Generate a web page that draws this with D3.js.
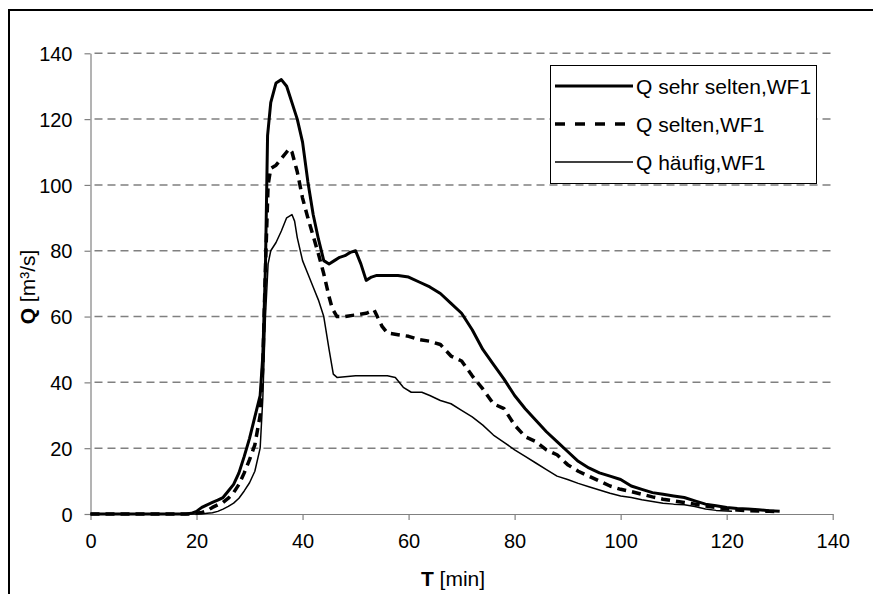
<!DOCTYPE html>
<meta charset="utf-8">
<style>
body { margin: 0; background: #fff; }
text { font-family: "Liberation Sans", Arial, sans-serif; fill: #000; }
.grid line { stroke: #808080; stroke-width: 1.5; stroke-dasharray: 8,5; }
.axis path, .axis line { stroke: #808080; stroke-width: 1.2; }
</style>
<svg width="873" height="594"></svg>
<script src="https://d3js.org/d3.v7.min.js"></script>
<script>
// axis ticks
var xTicks = [0, 20, 40, 60, 80, 100, 120, 140];
var yTicks = [0, 20, 40, 60, 80, 100, 120, 140];

// Q sehr selten, WF1
var tSehr = [0, 18, 19, 20, 21, 22, 23, 24, 25, 26, 27, 28, 29, 30, 31, 32, 32.5, 33, 33.4, 34, 35, 36, 37, 38, 39, 40, 41, 42, 43, 44, 45, 46, 47, 48, 49, 50, 51, 52, 53, 54, 56, 58, 60, 62, 64, 66, 68, 70, 72, 74, 76, 78, 80, 82, 84, 86, 88, 90, 92, 94, 96, 98, 100, 102, 104, 106, 108, 110, 112, 114, 116, 118, 120, 122, 124, 126, 128, 130];
var qSehr = [0, 0, 0.2, 0.8, 2, 2.8, 3.5, 4.2, 5, 7, 9, 12.5, 17.5, 23, 29.5, 36, 48, 75, 115, 125, 131, 132, 130, 125, 120, 113, 101, 91, 83.5, 77, 76, 77, 78, 78.5, 79.5, 80, 76, 71, 72, 72.5, 72.5, 72.5, 72, 70.5, 69, 67, 64, 61, 56, 50, 45.5, 41, 36, 32, 28.5, 25, 22, 19, 16, 14, 12.5, 11.5, 10.5, 8.5, 7.5, 6.5, 6, 5.5, 5, 4, 3, 2.5, 2, 1.7, 1.5, 1.3, 1, 0.8];

// Q selten, WF1
var tSelten = [0, 19, 20, 21, 22, 23, 24, 25, 26, 27, 28, 29, 30, 31, 32, 32.5, 33, 33.5, 34, 35, 36, 37, 37.5, 38, 39, 40, 41, 42, 43, 44, 45, 45.6, 46.5, 48, 50, 52, 53.5, 55, 56, 58, 60, 62, 64, 66, 68, 70, 72, 74, 76, 78, 80, 82, 84, 86, 88, 90, 92, 94, 96, 98, 100, 102, 104, 106, 108, 110, 112, 114, 116, 118, 120, 122, 124, 126, 128, 130];
var qSelten = [0, 0, 0.2, 0.5, 1, 2, 2.8, 3.5, 4.8, 6.5, 9, 12.5, 16.5, 21, 30, 45, 75, 100, 105, 106, 108, 110, 111, 110, 104, 96, 90, 84.5, 79, 73, 66, 62.5, 60, 60, 60.5, 61, 62, 57, 55, 54.5, 54, 53, 52.5, 51.5, 48, 46.5, 42, 38, 33.5, 32, 27, 23.5, 22, 19.5, 18, 15, 13, 11.5, 10, 8.5, 7.5, 6.8, 6, 5.2, 4.5, 4, 3.5, 3, 2.4, 2, 1.6, 1.2, 1, 0.9, 0.8, 0.7];

// Q haeufig, WF1
var tHaeufig = [0, 21, 22, 23, 24, 25, 26, 27, 28, 29, 30, 31, 32, 32.5, 33, 33.5, 34, 35, 36, 37, 38, 38.5, 39, 40, 41, 42, 43, 44, 45, 45.8, 46.5, 50, 54, 56, 57.5, 59, 60.5, 62.5, 64, 66, 68, 70, 72, 74, 76, 78, 80, 82, 84, 86, 88, 90, 92, 94, 96, 98, 100, 102, 104, 106, 108, 110, 112, 114, 116, 118, 120, 121];
var qHaeufig = [0, 0, 0.2, 0.4, 0.8, 1.5, 2.3, 3.3, 4.8, 7, 9.5, 13, 20, 35, 60, 76, 80, 82.5, 86, 90, 91, 89, 84, 77, 73, 69, 65, 60, 50, 42.5, 41.5, 42, 42, 42, 41.5, 38.5, 37, 37, 36, 34.5, 33.5, 31.5, 29.5, 27, 24, 21.8, 19.5, 17.5, 15.5, 13.5, 11.5, 10.5, 9.3, 8.3, 7.3, 6.3, 5.5, 5, 4.3, 3.8, 3.3, 3, 2.8, 2.3, 1.5, 1.1, 0.9, 0.8];

var series = [
  {name: "Q sehr selten,WF1", t: tSehr, q: qSehr, width: 3, dash: null},
  {name: "Q selten,WF1", t: tSelten, q: qSelten, width: 3.5, dash: "9,6"},
  {name: "Q häufig,WF1", t: tHaeufig, q: qHaeufig, width: 1.5, dash: null}
];

var svg = d3.select("svg");

// outer chart frame (right and bottom edges fall outside the picture)
svg.append("rect")
    .attr("x", 9).attr("y", 10)
    .attr("width", 900).attr("height", 620)
    .attr("fill", "none")
    .attr("stroke", "#000")
    .attr("stroke-width", 2);

var x = d3.scaleLinear().domain([0, 140]).range([90.5, 832.7]);
var y = d3.scaleLinear().domain([0, 140]).range([514, 53.3]);

svg.append("g")
    .attr("class", "grid")
  .selectAll("line")
  .data(yTicks.filter(function(d) { return d > 0; }))
  .enter().append("line")
    .attr("x1", x(0) + 4)
    .attr("x2", x(140))
    .attr("y1", function(d) { return y(d); })
    .attr("y2", function(d) { return y(d); });

var xAxis = svg.append("g")
    .attr("class", "axis")
    .attr("transform", "translate(0," + y(0) + ")")
    .call(d3.axisBottom(x).tickValues(xTicks).tickSize(6).tickSizeOuter(0).tickPadding(14));

var yAxis = svg.append("g")
    .attr("class", "axis")
    .attr("transform", "translate(" + x(0) + ",0)")
    .call(d3.axisLeft(y).tickValues(yTicks).tickSize(6).tickSizeOuter(0).tickPadding(12));

svg.selectAll(".axis text")
    .style("font-family", "'Liberation Sans', Arial, sans-serif")
    .style("font-size", "20px")
    .attr("fill", "#000");
yAxis.selectAll("text").attr("dy", "0.36em");

var line = d3.line()
    .x(function(d) { return x(d[0]); })
    .y(function(d) { return y(d[1]); });

svg.append("g")
  .selectAll("path")
  .data(series)
  .enter().append("path")
    .attr("d", function(s) { return line(d3.zip(s.t, s.q)); })
    .attr("fill", "none")
    .attr("stroke", "#000")
    .attr("stroke-width", function(s) { return s.width; })
    .attr("stroke-dasharray", function(s) { return s.dash; })
    .attr("stroke-linejoin", "round");

// axis titles
var xTitle = svg.append("text")
    .attr("x", 453).attr("y", 586)
    .attr("text-anchor", "middle")
    .style("font-size", "21px");
xTitle.append("tspan").style("font-weight", "bold").text("T");
xTitle.append("tspan").text(" [min]");

var yTitle = svg.append("text")
    .attr("transform", "translate(35,287) rotate(-90)")
    .attr("text-anchor", "middle")
    .style("font-size", "21px");
yTitle.append("tspan").style("font-weight", "bold").text("Q");
yTitle.append("tspan").text(" [m³/s]");

// legend
var legend = svg.append("g");
legend.append("rect")
    .attr("x", 550.5).attr("y", 65.5)
    .attr("width", 266).attr("height", 118)
    .attr("fill", "#fff")
    .attr("stroke", "#000")
    .attr("stroke-width", 1);

var item = legend.selectAll("g.item")
  .data(series)
  .enter().append("g")
    .attr("class", "item")
    .attr("transform", function(d, i) { return "translate(0," + (86 + i * 38) + ")"; });

item.append("line")
    .attr("x1", 555).attr("x2", 633)
    .attr("stroke", "#000")
    .attr("stroke-width", function(s) { return s.width; })
    .attr("stroke-dasharray", function(s) { return s.dash ? "10,10" : null; });

item.append("text")
    .attr("x", 636)
    .attr("dy", "0.36em")
    .style("font-size", "21px")
    .text(function(s) { return s.name; });
</script>
